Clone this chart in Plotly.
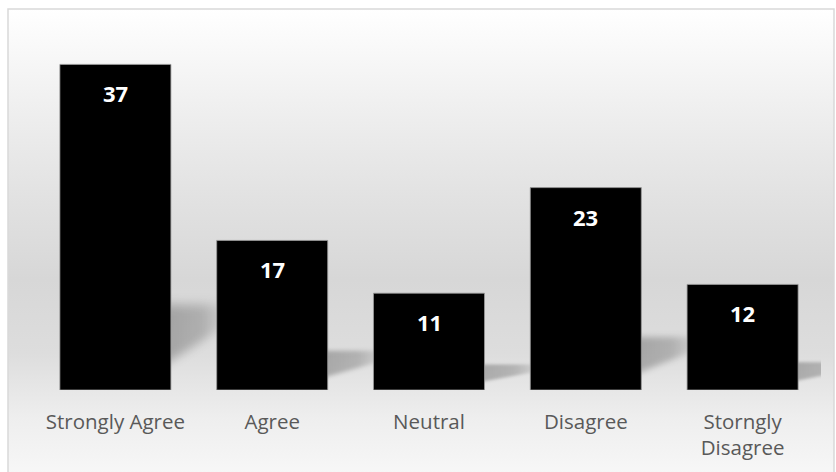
import base64
import plotly.graph_objects as go

# Survey responses
categories = ["Strongly Agree", "Agree", "Neutral", "Disagree", "Storngly<br>Disagree"]
counts = [37, 17, 11, 23, 12]

W, H = 836, 472
M_L, M_R, M_T, M_B = 37, 15, 38, 82
Y_MAX = 40
BAR_WIDTH = 0.708


def svg_uri(svg):
    return "data:image/svg+xml;base64," + base64.b64encode(svg.encode()).decode()


# Back wall: soft vertical grey gradient inside a thin light frame
background_svg = f"""<svg xmlns='http://www.w3.org/2000/svg' width='{W}' height='{H}' viewBox='0 0 {W} {H}' preserveAspectRatio='none'>
<defs><linearGradient id='wall' x1='0' y1='0' x2='0' y2='1'>
<stop offset='0' stop-color='#ffffff'/>
<stop offset='0.2' stop-color='#efefef'/>
<stop offset='0.38' stop-color='#e2e2e2'/>
<stop offset='0.55' stop-color='#d7d7d7'/>
<stop offset='0.7' stop-color='#dddddd'/>
<stop offset='0.83' stop-color='#eeeeee'/>
<stop offset='1' stop-color='#fbfbfb'/>
</linearGradient></defs>
<rect x='0' y='0' width='{W}' height='{H}' fill='#ffffff'/>
<rect x='8' y='9' width='826' height='{H + 20}' fill='url(#wall)' stroke='#d9d9d9' stroke-width='1.5'/>
</svg>"""

# Soft cast shadow that trails off to the right of each bar
shadow_svg = """<svg xmlns='http://www.w3.org/2000/svg' width='100' height='100' viewBox='0 0 100 100' preserveAspectRatio='none'>
<defs>
<linearGradient id='fade' x1='0' y1='0' x2='1' y2='0'>
<stop offset='0' stop-color='#000' stop-opacity='0.26'/>
<stop offset='0.55' stop-color='#000' stop-opacity='0.2'/>
<stop offset='1' stop-color='#000' stop-opacity='0'/>
</linearGradient>
<filter id='soft' x='-20%' y='-20%' width='140%' height='140%'><feGaussianBlur stdDeviation='3 5'/></filter>
</defs>
<polygon points='0,18 100,18 100,34 13,72 0,78' fill='url(#fade)' filter='url(#soft)'/>
</svg>"""

shadow_src = svg_uri(shadow_svg)

plot_w = W - M_L - M_R
plot_h = H - M_T - M_B

images = [dict(
    source=svg_uri(background_svg), xref="paper", yref="paper",
    x=-M_L / plot_w, y=1 + M_T / plot_h,
    sizex=W / plot_w, sizey=H / plot_h,
    xanchor="left", yanchor="top", sizing="stretch", layer="below",
)]
for i, v in enumerate(counts):
    images.append(dict(
        source=shadow_src, xref="x", yref="y",
        x=i + BAR_WIDTH / 2 - 0.06, y=v * 0.32,
        sizex=0.46, sizey=v * 0.32,
        xanchor="left", yanchor="top", sizing="stretch", layer="below",
    ))

fig = go.Figure(go.Bar(
    x=categories, y=counts,
    marker=dict(color="#000000", line=dict(color="#9a9a9a", width=0.8)),
    hoverinfo="x+y",
))

annotations = [
    dict(x=c, y=v, text=str(v), showarrow=False, yanchor="middle", yshift=-29,
         font=dict(family="Open Sans", size=22, color="#ffffff", weight="bold"))
    for c, v in zip(categories, counts)
]

fig.update_layout(
    width=W, height=H,
    margin=dict(l=M_L, r=M_R, t=M_T, b=M_B),
    paper_bgcolor="#ffffff",
    plot_bgcolor="rgba(0,0,0,0)",
    bargap=1 - BAR_WIDTH,
    showlegend=False,
    images=images,
    annotations=annotations,
    font=dict(family="Open Sans", color="#595959"),
    xaxis=dict(
        type="category", range=[-0.5, len(categories) - 0.5],
        showgrid=False, zeroline=False, showline=False,
        ticks="outside", ticklen=13, tickcolor="rgba(0,0,0,0)",
        tickfont=dict(family="Open Sans", size=20.5, color="#595959"),
    ),
    yaxis=dict(range=[0, Y_MAX], visible=False, showgrid=False, zeroline=False),
)

fig.write_html("out.html")
